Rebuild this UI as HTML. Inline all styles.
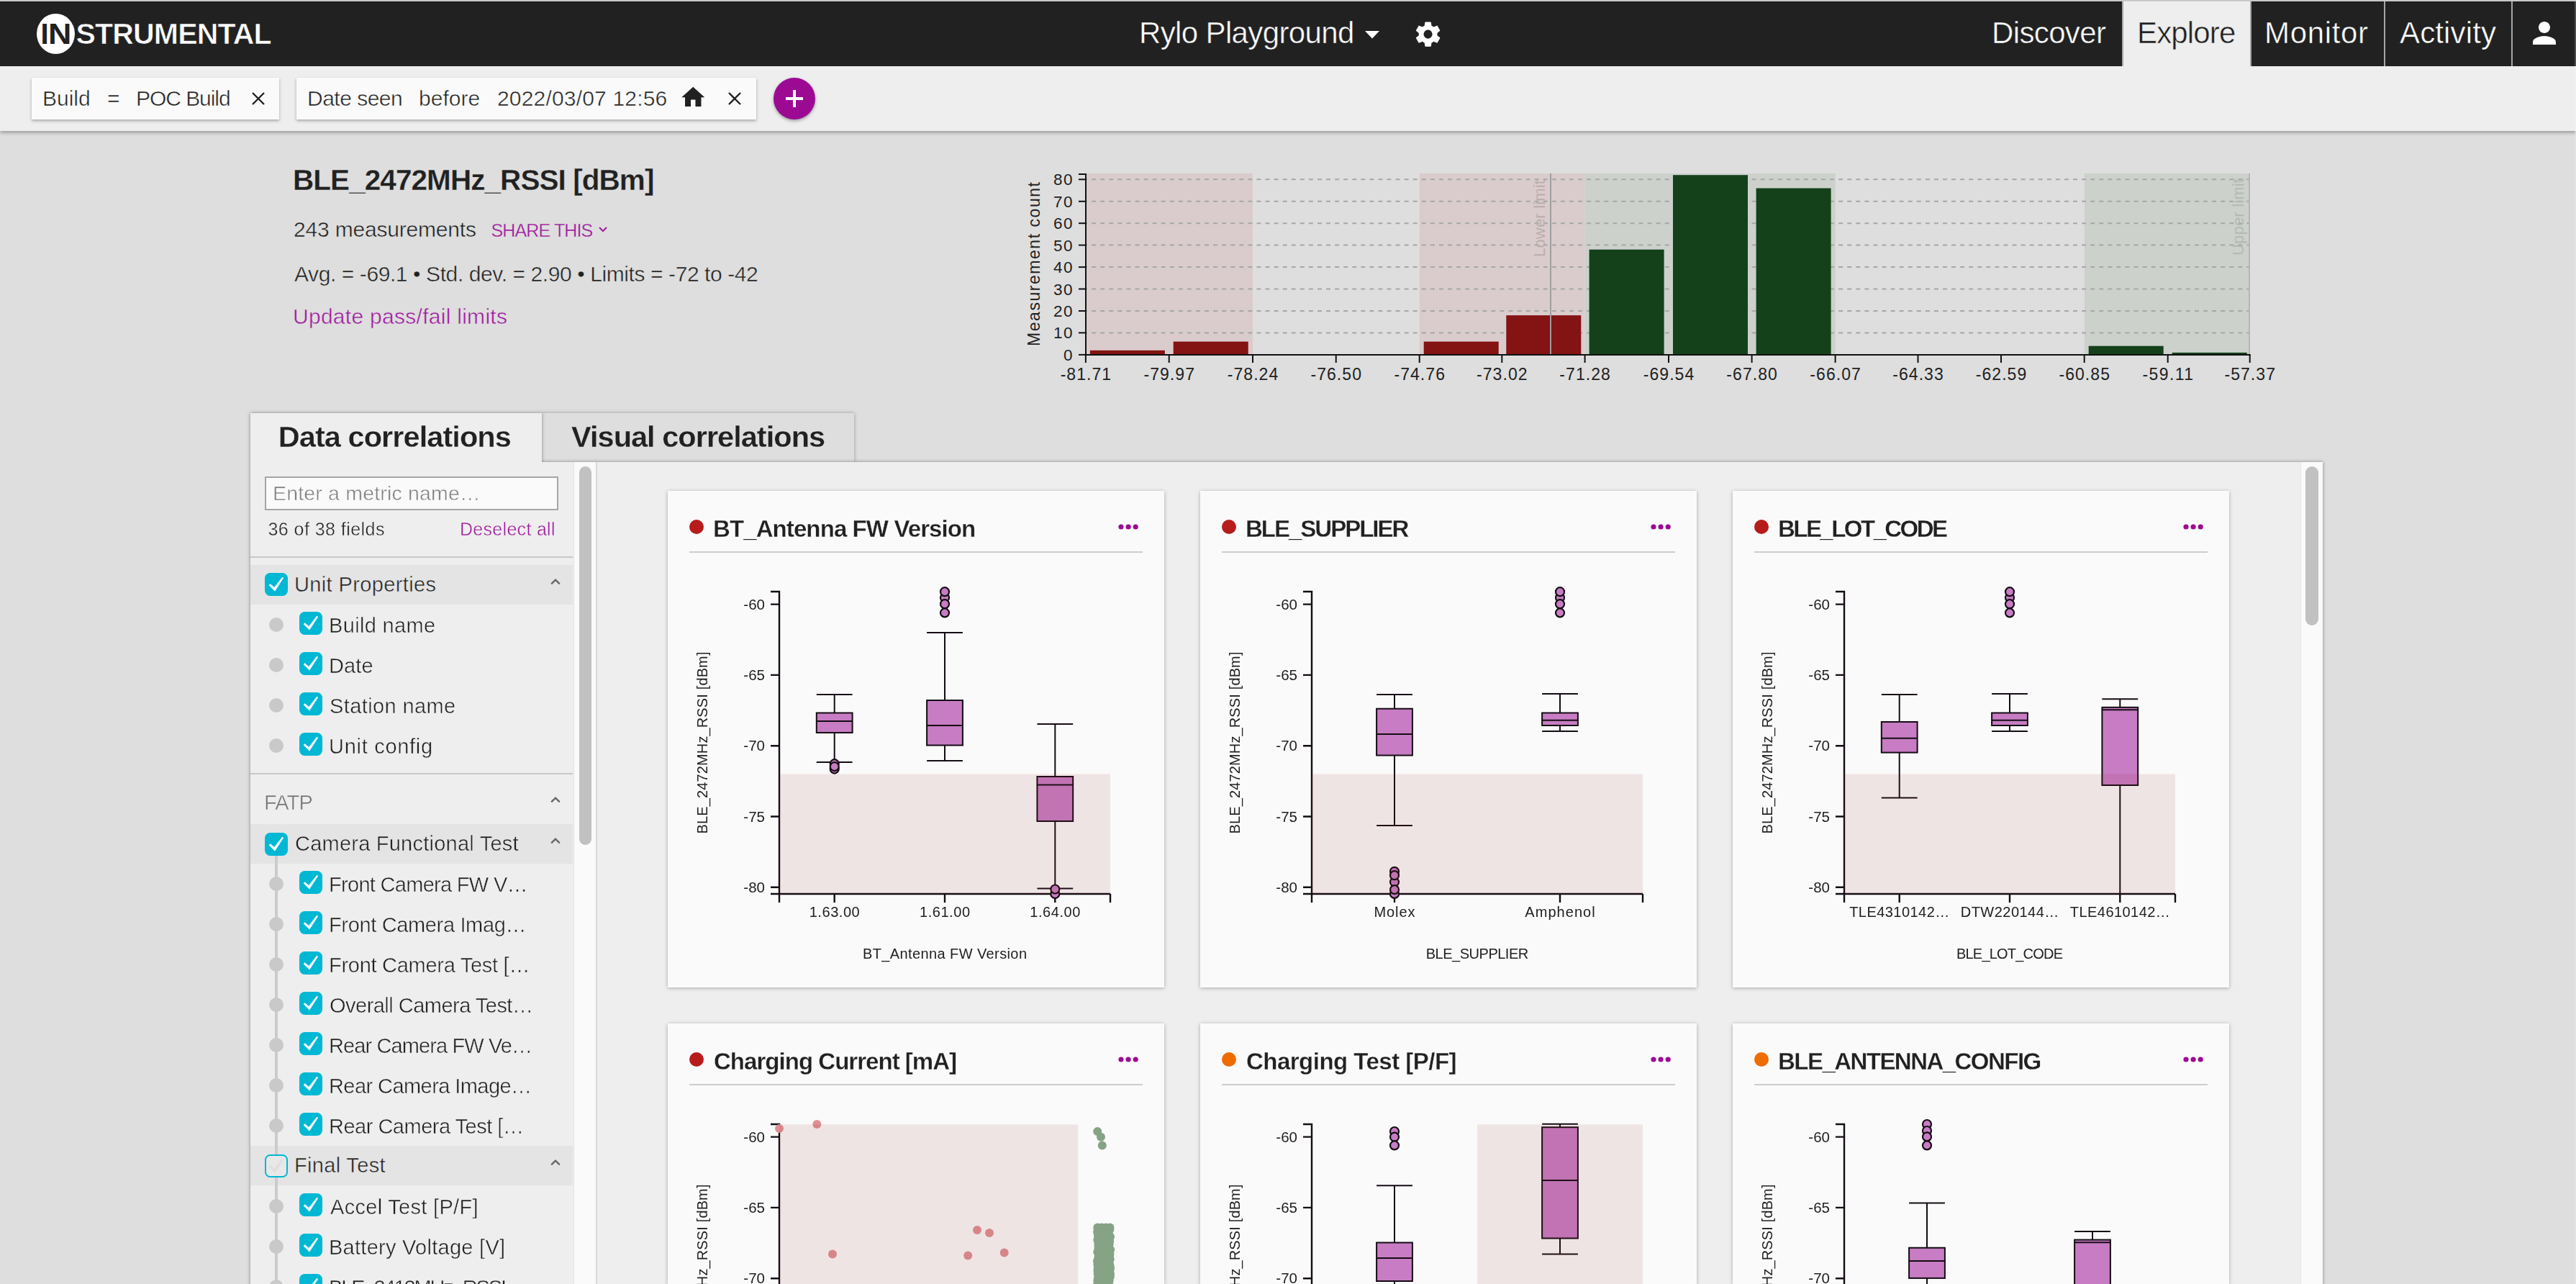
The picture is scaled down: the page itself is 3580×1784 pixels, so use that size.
<!DOCTYPE html><html lang="en"><head><meta charset="utf-8"><title>Instrumental - Explore</title><style>

html,body{margin:0;padding:0;overflow:hidden;background:#dedede;}
body{font-family:"Liberation Sans", Arial, sans-serif;}
#root{position:absolute;left:0;top:0;width:3580px;height:1784px;overflow:hidden;background:#dedede;}
#root div,#root svg,#root span.t{position:absolute;}
span.t{white-space:nowrap;display:block;}
svg text{font-family:"Liberation Sans", Arial, sans-serif;}
@media (max-width:1900px){#root{zoom:0.5;}}

</style></head><body><div id="root">
<div style="left:0px;top:92px;width:3580px;height:90px;background:#eeeeee;box-shadow:0 2px 5px rgba(0,0,0,0.35);"></div>
<div style="left:44px;top:108px;width:344px;height:58px;background:#fafafa;box-shadow:0 2px 4px rgba(0,0,0,0.3);"></div>
<div style="left:412px;top:108px;width:639px;height:58px;background:#fafafa;box-shadow:0 2px 4px rgba(0,0,0,0.3);"></div>
<span id="t1" class="t" style="left:59.0px;top:121.6px;font-size:30px;line-height:30px;color:#212121;letter-spacing:-0.01px;-webkit-text-stroke:0.5px #fafafa;">Build</span>
<span id="t2" class="t" style="left:149.0px;top:121.6px;font-size:30px;line-height:30px;color:#212121;-webkit-text-stroke:0.5px #fafafa;">=</span>
<span id="t3" class="t" style="left:189.0px;top:121.6px;font-size:30px;line-height:30px;color:#212121;letter-spacing:-1.05px;-webkit-text-stroke:0.5px #fafafa;">POC Build</span>
<svg style="left:348.5px;top:127px" width="20" height="20" viewBox="0 0 20 20"><path d="M2 2L18 18M18 2L2 18" stroke="#212121" stroke-width="2.4" fill="none"/></svg>
<span id="t4" class="t" style="left:427.0px;top:121.6px;font-size:30px;line-height:30px;color:#212121;letter-spacing:-0.51px;-webkit-text-stroke:0.5px #fafafa;">Date seen</span>
<span id="t5" class="t" style="left:582.0px;top:121.6px;font-size:30px;line-height:30px;color:#212121;letter-spacing:0.02px;-webkit-text-stroke:0.5px #fafafa;">before</span>
<span id="t6" class="t" style="left:691.0px;top:121.6px;font-size:30px;line-height:30px;color:#212121;letter-spacing:0.18px;-webkit-text-stroke:0.5px #fafafa;">2022/03/07 12:56</span>
<svg style="left:943.5px;top:116.2px" width="38.5" height="38.5" viewBox="0 0 24 24"><path fill="#212121" d="M10 20v-6h4v6h5v-8h3L12 3 2 12h3v8z"/></svg>
<svg style="left:1011px;top:127px" width="20" height="20" viewBox="0 0 20 20"><path d="M2 2L18 18M18 2L2 18" stroke="#212121" stroke-width="2.4" fill="none"/></svg>
<div style="left:1075px;top:108px;width:58px;height:58px;border-radius:50%;background:#9c0a94;box-shadow:0 2px 4px rgba(0,0,0,0.35);"></div>
<svg style="left:1090px;top:123px" width="28" height="28" viewBox="0 0 28 28"><path d="M14 2V26M2 14H26" stroke="#fff" stroke-width="4" fill="none"/></svg>
<div style="left:0px;top:0px;width:3580px;height:1px;background:#c5c5c5;"></div>
<div style="left:0px;top:1px;width:3580px;height:1px;background:#cecece;"></div>
<div style="left:0px;top:2px;width:3580px;height:90px;background:#212121;"></div>
<div style="left:0px;top:2px;width:3580px;height:1px;background:#181818;"></div>
<div style="left:2951px;top:2px;width:176px;height:90px;background:#eeeeee;"></div>
<div style="left:2949px;top:2px;width:2px;height:90px;background:#a6a6a6;"></div>
<div style="left:3127px;top:2px;width:2px;height:90px;background:#a6a6a6;"></div>
<div style="left:3313px;top:2px;width:2px;height:90px;background:#a6a6a6;"></div>
<div style="left:3490px;top:2px;width:2px;height:90px;background:#a6a6a6;"></div>
<div style="left:50.5px;top:18.7px;width:53.5px;height:56.3px;border-radius:50%;background:#fff;"></div>
<span class="t" style="left:0;top:0;"><span id="t7" class="t" style="left:56.5px;top:27.4px;font-size:40px;line-height:40px;color:#212121;font-weight:700;">I</span><span id="t8" class="t" style="left:66.5px;top:27.4px;font-size:40px;line-height:40px;color:#212121;font-weight:700;transform:scaleX(1.12);transform-origin:0 0;">N</span><span id="t9" class="t" style="left:105.5px;top:27.1px;font-size:41px;line-height:41px;color:#ffffff;font-weight:700;letter-spacing:-0.81px;-webkit-text-stroke:0.6px #212121;">STRUMENTAL</span></span>
<span id="t10" class="t" style="left:1583.0px;top:25.2px;font-size:42px;line-height:42px;color:#ffffff;letter-spacing:-0.63px;-webkit-text-stroke:0.5px #212121;">Rylo Playground</span>
<svg style="left:1895px;top:40px" width="24" height="16" viewBox="0 0 24 16"><path d="M2 3h20L12 13.5z" fill="#fff"/></svg>
<svg style="left:1964.4px;top:26.5px" width="41.2" height="41.2" viewBox="0 0 24 24"><path fill="#fff" d="M19.43 12.98c.04-.32.07-.64.07-.98s-.03-.66-.07-.98l2.11-1.65c.19-.15.24-.42.12-.64l-2-3.46c-.12-.22-.39-.3-.61-.22l-2.49 1c-.52-.4-1.08-.73-1.69-.98l-.38-2.65C14.46 2.18 14.25 2 14 2h-4c-.25 0-.46.18-.49.42l-.38 2.65c-.61.25-1.17.59-1.69.98l-2.49-1c-.23-.09-.49 0-.61.22l-2 3.46c-.13.22-.07.49.12.64l2.11 1.65c-.04.32-.07.65-.07.98s.03.66.07.98l-2.11 1.65c-.19.15-.24.42-.12.64l2 3.46c.12.22.39.3.61.22l2.49-1c.52.4 1.08.73 1.69.98l.38 2.65c.03.24.24.42.49.42h4c.25 0 .46-.18.49-.42l.38-2.65c.61-.25 1.17-.59 1.69-.98l2.49 1c.23.09.49 0 .61-.22l2-3.46c.12-.22.07-.49-.12-.64l-2.11-1.65zM12 15.5c-1.93 0-3.5-1.57-3.5-3.5s1.57-3.5 3.5-3.5 3.5 1.57 3.5 3.5-1.57 3.5-3.5 3.5z"/></svg>
<span id="t11" class="t" style="left:2768.0px;top:25.0px;font-size:42px;line-height:42px;color:#ffffff;letter-spacing:-0.63px;-webkit-text-stroke:0.5px #212121;">Discover</span>
<span id="t12" class="t" style="left:2970.0px;top:25.0px;font-size:42px;line-height:42px;color:#212121;letter-spacing:-0.84px;-webkit-text-stroke:0.5px #eeeeee;">Explore</span>
<span id="t13" class="t" style="left:3147.0px;top:25.0px;font-size:42px;line-height:42px;color:#ffffff;letter-spacing:0.66px;-webkit-text-stroke:0.5px #212121;">Monitor</span>
<span id="t14" class="t" style="left:3335.0px;top:25.0px;font-size:42px;line-height:42px;color:#ffffff;letter-spacing:0.14px;-webkit-text-stroke:0.5px #212121;">Activity</span>
<svg style="left:3512px;top:22px" width="48" height="48" viewBox="0 0 24 24"><path fill="#fff" d="M12 12c2.21 0 4-1.79 4-4s-1.79-4-4-4-4 1.79-4 4 1.79 4 4 4zm0 2c-2.67 0-8 1.34-8 4v2h16v-2c0-2.66-5.33-4-8-4z"/></svg>
<span id="t15" class="t" style="left:407.0px;top:229.5px;font-size:40.5px;line-height:40.5px;color:#212121;font-weight:700;letter-spacing:-0.94px;-webkit-text-stroke:0.3px #dedede;">BLE_2472MHz_RSSI [dBm]</span>
<span id="t16" class="t" style="left:408.0px;top:303.9px;font-size:30px;line-height:30px;color:#212121;letter-spacing:-0.19px;-webkit-text-stroke:0.5px #dedede;">243 measurements</span>
<span id="t17" class="t" style="left:682.5px;top:308.1px;font-size:25px;line-height:25px;color:#a01aa0;letter-spacing:-0.87px;-webkit-text-stroke:0.3px #dedede;">SHARE THIS</span>
<svg style="left:831px;top:313px" width="14" height="12" viewBox="0 0 14 12"><path d="M2 3L7 8L12 3" stroke="#a01aa0" stroke-width="2" fill="none"/></svg>
<span id="t18" class="t" style="left:409.0px;top:366.4px;font-size:30px;line-height:30px;color:#212121;letter-spacing:-0.41px;-webkit-text-stroke:0.5px #dedede;">Avg. = -69.1 • Std. dev. = 2.90 • Limits = -72 to -42</span>
<span id="t19" class="t" style="left:407.0px;top:425.4px;font-size:30px;line-height:30px;color:#a01aa0;letter-spacing:0.28px;-webkit-text-stroke:0.5px #dedede;">Update pass/fail limits</span>
<svg style="left:1400px;top:220px" width="1800" height="340" viewBox="0 0 1800 340"><rect x="108.9" y="21.0" width="232.1" height="251.9" fill="#dacccc"/><rect x="572.7" y="21.0" width="229.9" height="251.9" fill="#dacccc"/><rect x="802.6" y="21.0" width="348.0" height="251.9" fill="#ccd1cc"/><rect x="1496.7" y="21.0" width="230.0" height="251.9" fill="#ccd1cc"/><line x1="109.0" y1="242.4" x2="1726.7" y2="242.4" stroke="#a6a6a6" stroke-width="2" stroke-dasharray="5.9 6.17" stroke-dashoffset="3.9"/><line x1="109.0" y1="212.0" x2="1726.7" y2="212.0" stroke="#a6a6a6" stroke-width="2" stroke-dasharray="5.9 6.17" stroke-dashoffset="3.9"/><line x1="109.0" y1="181.5" x2="1726.7" y2="181.5" stroke="#a6a6a6" stroke-width="2" stroke-dasharray="5.9 6.17" stroke-dashoffset="3.9"/><line x1="109.0" y1="151.1" x2="1726.7" y2="151.1" stroke="#a6a6a6" stroke-width="2" stroke-dasharray="5.9 6.17" stroke-dashoffset="3.9"/><line x1="109.0" y1="120.6" x2="1726.7" y2="120.6" stroke="#a6a6a6" stroke-width="2" stroke-dasharray="5.9 6.17" stroke-dashoffset="3.9"/><line x1="109.0" y1="90.2" x2="1726.7" y2="90.2" stroke="#a6a6a6" stroke-width="2" stroke-dasharray="5.9 6.17" stroke-dashoffset="3.9"/><line x1="109.0" y1="59.8" x2="1726.7" y2="59.8" stroke="#a6a6a6" stroke-width="2" stroke-dasharray="5.9 6.17" stroke-dashoffset="3.9"/><line x1="109.0" y1="29.3" x2="1726.7" y2="29.3" stroke="#a6a6a6" stroke-width="2" stroke-dasharray="5.9 6.17" stroke-dashoffset="3.9"/><rect x="114.9" y="266.8" width="104.0" height="6.1" fill="#841313"/><rect x="230.7" y="254.6" width="104.0" height="18.3" fill="#841313"/><rect x="578.7" y="254.6" width="104.0" height="18.3" fill="#841313"/><rect x="693.3" y="218.1" width="104.0" height="54.8" fill="#841313"/><rect x="808.6" y="126.7" width="104.0" height="146.2" fill="#14411a"/><rect x="925.0" y="23.2" width="104.0" height="249.7" fill="#14411a"/><rect x="1040.6" y="41.5" width="104.0" height="231.4" fill="#14411a"/><rect x="1502.7" y="260.7" width="104.0" height="12.2" fill="#14411a"/><rect x="1618.7" y="269.9" width="104.0" height="3.0" fill="#14411a"/><line x1="755.0" y1="21.0" x2="755.0" y2="272.9" stroke="#9e9e9e" stroke-width="2"/><line x1="1726.0" y1="21.0" x2="1726.0" y2="272.9" stroke="#b5b9b4" stroke-width="2"/><text transform="translate(747.0 137.0) rotate(-90)" font-size="22" fill="#b9aeae" textLength="107" lengthAdjust="spacing">Lower limit</text><text transform="translate(1718.0 135.0) rotate(-90)" font-size="22" fill="#b4b9b3" textLength="107" lengthAdjust="spacing">Upper limit</text><path d="M99.0 22.0H109.0V272.9H1727.7" stroke="#111" stroke-width="2" fill="none"/><line x1="99.0" y1="272.9" x2="109.0" y2="272.9" stroke="#111" stroke-width="2"/><text x="90.5" y="280.9" font-size="22.5" text-anchor="end" fill="#212121">0</text><line x1="99.0" y1="242.4" x2="109.0" y2="242.4" stroke="#111" stroke-width="2"/><text x="90.5" y="250.4" font-size="22.5" text-anchor="end" fill="#212121" textLength="26.5" lengthAdjust="spacing">10</text><line x1="99.0" y1="212.0" x2="109.0" y2="212.0" stroke="#111" stroke-width="2"/><text x="90.5" y="220.0" font-size="22.5" text-anchor="end" fill="#212121" textLength="26.5" lengthAdjust="spacing">20</text><line x1="99.0" y1="181.5" x2="109.0" y2="181.5" stroke="#111" stroke-width="2"/><text x="90.5" y="189.5" font-size="22.5" text-anchor="end" fill="#212121" textLength="26.5" lengthAdjust="spacing">30</text><line x1="99.0" y1="151.1" x2="109.0" y2="151.1" stroke="#111" stroke-width="2"/><text x="90.5" y="159.1" font-size="22.5" text-anchor="end" fill="#212121" textLength="26.5" lengthAdjust="spacing">40</text><line x1="99.0" y1="120.6" x2="109.0" y2="120.6" stroke="#111" stroke-width="2"/><text x="90.5" y="128.6" font-size="22.5" text-anchor="end" fill="#212121" textLength="26.5" lengthAdjust="spacing">50</text><line x1="99.0" y1="90.2" x2="109.0" y2="90.2" stroke="#111" stroke-width="2"/><text x="90.5" y="98.2" font-size="22.5" text-anchor="end" fill="#212121" textLength="26.5" lengthAdjust="spacing">60</text><line x1="99.0" y1="59.8" x2="109.0" y2="59.8" stroke="#111" stroke-width="2"/><text x="90.5" y="67.8" font-size="22.5" text-anchor="end" fill="#212121" textLength="26.5" lengthAdjust="spacing">70</text><line x1="99.0" y1="29.3" x2="109.0" y2="29.3" stroke="#111" stroke-width="2"/><text x="90.5" y="37.3" font-size="22.5" text-anchor="end" fill="#212121" textLength="26.5" lengthAdjust="spacing">80</text><line x1="108.9" y1="272.9" x2="108.9" y2="284.0" stroke="#111" stroke-width="2"/><text x="108.9" y="308.0" font-size="23" text-anchor="middle" fill="#212121" textLength="70.5" lengthAdjust="spacing">-81.71</text><line x1="224.7" y1="272.9" x2="224.7" y2="284.0" stroke="#111" stroke-width="2"/><text x="224.7" y="308.0" font-size="23" text-anchor="middle" fill="#212121" textLength="70.5" lengthAdjust="spacing">-79.97</text><line x1="341.0" y1="272.9" x2="341.0" y2="284.0" stroke="#111" stroke-width="2"/><text x="341.0" y="308.0" font-size="23" text-anchor="middle" fill="#212121" textLength="70.5" lengthAdjust="spacing">-78.24</text><line x1="456.7" y1="272.9" x2="456.7" y2="284.0" stroke="#111" stroke-width="2"/><text x="456.7" y="308.0" font-size="23" text-anchor="middle" fill="#212121" textLength="70.5" lengthAdjust="spacing">-76.50</text><line x1="572.7" y1="272.9" x2="572.7" y2="284.0" stroke="#111" stroke-width="2"/><text x="572.7" y="308.0" font-size="23" text-anchor="middle" fill="#212121" textLength="70.5" lengthAdjust="spacing">-74.76</text><line x1="687.3" y1="272.9" x2="687.3" y2="284.0" stroke="#111" stroke-width="2"/><text x="687.3" y="308.0" font-size="23" text-anchor="middle" fill="#212121" textLength="70.5" lengthAdjust="spacing">-73.02</text><line x1="802.6" y1="272.9" x2="802.6" y2="284.0" stroke="#111" stroke-width="2"/><text x="802.6" y="308.0" font-size="23" text-anchor="middle" fill="#212121" textLength="70.5" lengthAdjust="spacing">-71.28</text><line x1="919.0" y1="272.9" x2="919.0" y2="284.0" stroke="#111" stroke-width="2"/><text x="919.0" y="308.0" font-size="23" text-anchor="middle" fill="#212121" textLength="70.5" lengthAdjust="spacing">-69.54</text><line x1="1034.6" y1="272.9" x2="1034.6" y2="284.0" stroke="#111" stroke-width="2"/><text x="1034.6" y="308.0" font-size="23" text-anchor="middle" fill="#212121" textLength="70.5" lengthAdjust="spacing">-67.80</text><line x1="1150.6" y1="272.9" x2="1150.6" y2="284.0" stroke="#111" stroke-width="2"/><text x="1150.6" y="308.0" font-size="23" text-anchor="middle" fill="#212121" textLength="70.5" lengthAdjust="spacing">-66.07</text><line x1="1265.5" y1="272.9" x2="1265.5" y2="284.0" stroke="#111" stroke-width="2"/><text x="1265.5" y="308.0" font-size="23" text-anchor="middle" fill="#212121" textLength="70.5" lengthAdjust="spacing">-64.33</text><line x1="1381.0" y1="272.9" x2="1381.0" y2="284.0" stroke="#111" stroke-width="2"/><text x="1381.0" y="308.0" font-size="23" text-anchor="middle" fill="#212121" textLength="70.5" lengthAdjust="spacing">-62.59</text><line x1="1496.7" y1="272.9" x2="1496.7" y2="284.0" stroke="#111" stroke-width="2"/><text x="1496.7" y="308.0" font-size="23" text-anchor="middle" fill="#212121" textLength="70.5" lengthAdjust="spacing">-60.85</text><line x1="1612.7" y1="272.9" x2="1612.7" y2="284.0" stroke="#111" stroke-width="2"/><text x="1612.7" y="308.0" font-size="23" text-anchor="middle" fill="#212121" textLength="70.5" lengthAdjust="spacing">-59.11</text><line x1="1726.7" y1="272.9" x2="1726.7" y2="284.0" stroke="#111" stroke-width="2"/><text x="1726.7" y="308.0" font-size="23" text-anchor="middle" fill="#212121" textLength="70.5" lengthAdjust="spacing">-57.37</text><text transform="translate(44.5 147.0) rotate(-90)" font-size="23" text-anchor="middle" fill="#212121" textLength="228" lengthAdjust="spacing">Measurement count</text></svg>
<div style="left:753px;top:574px;width:434px;height:68px;background:#dedede;box-shadow:0 0 5px rgba(0,0,0,0.3);"></div>
<div style="left:0;top:0;width:0;height:0;filter:drop-shadow(0 0 2.5px rgba(0,0,0,0.4));"><div style="left:348px;top:642px;width:2880px;height:1162px;background:#eeeeee;"></div><div style="left:348px;top:574px;width:405px;height:70px;background:#eeeeee;"></div></div>
<span id="t20" class="t" style="left:386.7px;top:585.6px;font-size:41.5px;line-height:41.5px;color:#212121;font-weight:700;letter-spacing:-0.93px;-webkit-text-stroke:0.3px #eeeeee;">Data correlations</span>
<span id="t21" class="t" style="left:794.0px;top:585.6px;font-size:41.5px;line-height:41.5px;color:#212121;font-weight:700;letter-spacing:-0.97px;-webkit-text-stroke:0.3px #dedede;">Visual correlations</span>
<div style="left:797px;top:642px;width:33px;height:1142px;background:#fafafa;border-left:1px solid #e2e2e2;border-right:2px solid #d9d9d9;box-sizing:border-box;"></div>
<div style="left:804.5px;top:648px;width:17.5px;height:525.5px;background:#c1c1c1;border-radius:9px;"></div>
<div style="left:3197px;top:642px;width:31px;height:1142px;background:#fafafa;border-left:1px solid #e6e6e6;box-sizing:border-box;"></div>
<div style="left:3204px;top:648px;width:18px;height:221px;background:#c1c1c1;border-radius:9px;"></div>
<div style="left:368px;top:662px;width:408px;height:47px;background:#fafafa;border:2px solid #a6a6a6;box-sizing:border-box;"></div>
<span id="t22" class="t" style="left:379.0px;top:671.3px;font-size:28.5px;line-height:28.5px;color:#808080;letter-spacing:0.18px;-webkit-text-stroke:0.5px #fafafa;">Enter a metric name…</span>
<span id="t23" class="t" style="left:372.5px;top:722.6px;font-size:25px;line-height:25px;color:#212121;letter-spacing:0.45px;-webkit-text-stroke:0.4px #eeeeee;">36 of 38 fields</span>
<span id="t24" class="t" style="left:639.0px;top:722.6px;font-size:25px;line-height:25px;color:#a01aa0;letter-spacing:0.30px;-webkit-text-stroke:0.4px #eeeeee;">Deselect all</span>
<div style="left:348px;top:773.3px;width:448px;height:2px;background:#c8c8c8;"></div>
<div style="left:348px;top:785px;width:448px;height:55px;background:#e4e4e4;"></div>
<svg style="left:368px;top:796px" width="32" height="32" viewBox="0 0 32 32"><rect width="32" height="32" rx="7.5" fill="#00b8d4"/><path d="M7.7 15.3L13.2 19.9L24.3 5.8L26.1 7L14.1 25.5L5.7 17.3Z" fill="#fff"/></svg>
<span id="t25" class="t" style="left:409.0px;top:797.9px;font-size:29px;line-height:29px;color:#212121;letter-spacing:0.37px;-webkit-text-stroke:0.5px #e4e4e4;">Unit Properties</span>
<svg style="left:762px;top:800.7px" width="20" height="14" viewBox="0 0 20 14"><path d="M4.2 10.4L10 4.6L15.8 10.4" stroke="#666" stroke-width="2.3" fill="none"/></svg>
<div style="left:374px;top:858px;width:20px;height:20px;border-radius:50%;background:#c9c9c9;"></div>
<svg style="left:416px;top:850px" width="32" height="32" viewBox="0 0 32 32"><rect width="32" height="32" rx="7.5" fill="#00b8d4"/><path d="M7.7 15.3L13.2 19.9L24.3 5.8L26.1 7L14.1 25.5L5.7 17.3Z" fill="#fff"/></svg>
<span id="t26" class="t" style="left:457.0px;top:854.6px;font-size:29px;line-height:29px;color:#212121;letter-spacing:0.34px;-webkit-text-stroke:0.5px #eeeeee;">Build name</span>
<div style="left:374px;top:914px;width:20px;height:20px;border-radius:50%;background:#c9c9c9;"></div>
<svg style="left:416px;top:906px" width="32" height="32" viewBox="0 0 32 32"><rect width="32" height="32" rx="7.5" fill="#00b8d4"/><path d="M7.7 15.3L13.2 19.9L24.3 5.8L26.1 7L14.1 25.5L5.7 17.3Z" fill="#fff"/></svg>
<span id="t27" class="t" style="left:457.0px;top:910.6px;font-size:29px;line-height:29px;color:#212121;letter-spacing:0.12px;-webkit-text-stroke:0.5px #eeeeee;">Date</span>
<div style="left:374px;top:970px;width:20px;height:20px;border-radius:50%;background:#c9c9c9;"></div>
<svg style="left:416px;top:962px" width="32" height="32" viewBox="0 0 32 32"><rect width="32" height="32" rx="7.5" fill="#00b8d4"/><path d="M7.7 15.3L13.2 19.9L24.3 5.8L26.1 7L14.1 25.5L5.7 17.3Z" fill="#fff"/></svg>
<span id="t28" class="t" style="left:458.0px;top:966.6px;font-size:29px;line-height:29px;color:#212121;letter-spacing:0.39px;-webkit-text-stroke:0.5px #eeeeee;">Station name</span>
<div style="left:374px;top:1026px;width:20px;height:20px;border-radius:50%;background:#c9c9c9;"></div>
<svg style="left:416px;top:1018px" width="32" height="32" viewBox="0 0 32 32"><rect width="32" height="32" rx="7.5" fill="#00b8d4"/><path d="M7.7 15.3L13.2 19.9L24.3 5.8L26.1 7L14.1 25.5L5.7 17.3Z" fill="#fff"/></svg>
<span id="t29" class="t" style="left:457.0px;top:1022.6px;font-size:29px;line-height:29px;color:#212121;letter-spacing:0.71px;-webkit-text-stroke:0.5px #eeeeee;">Unit config</span>
<div style="left:348px;top:1074.3px;width:448px;height:2px;background:#c8c8c8;"></div>
<span id="t30" class="t" style="left:367.0px;top:1101.2px;font-size:29px;line-height:29px;color:#757575;letter-spacing:-0.84px;-webkit-text-stroke:0.5px #eeeeee;">FATP</span>
<svg style="left:762px;top:1103.7px" width="20" height="14" viewBox="0 0 20 14"><path d="M4.2 10.4L10 4.6L15.8 10.4" stroke="#666" stroke-width="2.3" fill="none"/></svg>
<div style="left:348px;top:1145px;width:448px;height:55px;background:#e4e4e4;"></div>
<div style="left:348px;top:1592px;width:448px;height:55px;background:#e4e4e4;"></div>
<div style="left:382px;top:1180px;width:4px;height:604px;background:#cbcbcb;"></div>
<svg style="left:368px;top:1157px" width="32" height="32" viewBox="0 0 32 32"><rect width="32" height="32" rx="7.5" fill="#00b8d4"/><path d="M7.7 15.3L13.2 19.9L24.3 5.8L26.1 7L14.1 25.5L5.7 17.3Z" fill="#fff"/></svg>
<span id="t31" class="t" style="left:410.0px;top:1157.9px;font-size:29px;line-height:29px;color:#212121;letter-spacing:0.23px;-webkit-text-stroke:0.5px #e4e4e4;">Camera Functional Test</span>
<svg style="left:762px;top:1160.7px" width="20" height="14" viewBox="0 0 20 14"><path d="M4.2 10.4L10 4.6L15.8 10.4" stroke="#666" stroke-width="2.3" fill="none"/></svg>
<div style="left:374px;top:1218px;width:20px;height:20px;border-radius:50%;background:#c9c9c9;"></div>
<svg style="left:416px;top:1210px" width="32" height="32" viewBox="0 0 32 32"><rect width="32" height="32" rx="7.5" fill="#00b8d4"/><path d="M7.7 15.3L13.2 19.9L24.3 5.8L26.1 7L14.1 25.5L5.7 17.3Z" fill="#fff"/></svg>
<span id="t32" class="t" style="left:457.0px;top:1214.6px;font-size:29px;line-height:29px;color:#212121;letter-spacing:-0.70px;-webkit-text-stroke:0.5px #eeeeee;">Front Camera FW V…</span>
<div style="left:374px;top:1274px;width:20px;height:20px;border-radius:50%;background:#c9c9c9;"></div>
<svg style="left:416px;top:1266px" width="32" height="32" viewBox="0 0 32 32"><rect width="32" height="32" rx="7.5" fill="#00b8d4"/><path d="M7.7 15.3L13.2 19.9L24.3 5.8L26.1 7L14.1 25.5L5.7 17.3Z" fill="#fff"/></svg>
<span id="t33" class="t" style="left:457.0px;top:1270.6px;font-size:29px;line-height:29px;color:#212121;letter-spacing:-0.35px;-webkit-text-stroke:0.5px #eeeeee;">Front Camera Imag…</span>
<div style="left:374px;top:1330px;width:20px;height:20px;border-radius:50%;background:#c9c9c9;"></div>
<svg style="left:416px;top:1322px" width="32" height="32" viewBox="0 0 32 32"><rect width="32" height="32" rx="7.5" fill="#00b8d4"/><path d="M7.7 15.3L13.2 19.9L24.3 5.8L26.1 7L14.1 25.5L5.7 17.3Z" fill="#fff"/></svg>
<span id="t34" class="t" style="left:457.0px;top:1326.6px;font-size:29px;line-height:29px;color:#212121;letter-spacing:-0.28px;-webkit-text-stroke:0.5px #eeeeee;">Front Camera Test […</span>
<div style="left:374px;top:1386px;width:20px;height:20px;border-radius:50%;background:#c9c9c9;"></div>
<svg style="left:416px;top:1378px" width="32" height="32" viewBox="0 0 32 32"><rect width="32" height="32" rx="7.5" fill="#00b8d4"/><path d="M7.7 15.3L13.2 19.9L24.3 5.8L26.1 7L14.1 25.5L5.7 17.3Z" fill="#fff"/></svg>
<span id="t35" class="t" style="left:458.0px;top:1382.6px;font-size:29px;line-height:29px;color:#212121;letter-spacing:-0.52px;-webkit-text-stroke:0.5px #eeeeee;">Overall Camera Test…</span>
<div style="left:374px;top:1442px;width:20px;height:20px;border-radius:50%;background:#c9c9c9;"></div>
<svg style="left:416px;top:1434px" width="32" height="32" viewBox="0 0 32 32"><rect width="32" height="32" rx="7.5" fill="#00b8d4"/><path d="M7.7 15.3L13.2 19.9L24.3 5.8L26.1 7L14.1 25.5L5.7 17.3Z" fill="#fff"/></svg>
<span id="t36" class="t" style="left:457.0px;top:1438.6px;font-size:29px;line-height:29px;color:#212121;letter-spacing:-0.89px;-webkit-text-stroke:0.5px #eeeeee;">Rear Camera FW Ve…</span>
<div style="left:374px;top:1498px;width:20px;height:20px;border-radius:50%;background:#c9c9c9;"></div>
<svg style="left:416px;top:1490px" width="32" height="32" viewBox="0 0 32 32"><rect width="32" height="32" rx="7.5" fill="#00b8d4"/><path d="M7.7 15.3L13.2 19.9L24.3 5.8L26.1 7L14.1 25.5L5.7 17.3Z" fill="#fff"/></svg>
<span id="t37" class="t" style="left:457.0px;top:1494.6px;font-size:29px;line-height:29px;color:#212121;letter-spacing:-0.57px;-webkit-text-stroke:0.5px #eeeeee;">Rear Camera Image…</span>
<div style="left:374px;top:1554px;width:20px;height:20px;border-radius:50%;background:#c9c9c9;"></div>
<svg style="left:416px;top:1546px" width="32" height="32" viewBox="0 0 32 32"><rect width="32" height="32" rx="7.5" fill="#00b8d4"/><path d="M7.7 15.3L13.2 19.9L24.3 5.8L26.1 7L14.1 25.5L5.7 17.3Z" fill="#fff"/></svg>
<span id="t38" class="t" style="left:457.0px;top:1550.6px;font-size:29px;line-height:29px;color:#212121;letter-spacing:-0.50px;-webkit-text-stroke:0.5px #eeeeee;">Rear Camera Test […</span>
<svg style="left:368px;top:1604px" width="32" height="32" viewBox="0 0 32 32"><rect x="1" y="1" width="30" height="30" rx="6.5" fill="#e8e8e8" stroke="#00b8d4" stroke-width="2"/><path d="M7.7 15.3L13.2 19.9L24.3 5.8L26.1 7L14.1 25.5L5.7 17.3Z" fill="#dedede"/></svg>
<span id="t39" class="t" style="left:409.0px;top:1604.9px;font-size:29px;line-height:29px;color:#212121;letter-spacing:0.33px;-webkit-text-stroke:0.5px #e4e4e4;">Final Test</span>
<svg style="left:762px;top:1607.7px" width="20" height="14" viewBox="0 0 20 14"><path d="M4.2 10.4L10 4.6L15.8 10.4" stroke="#666" stroke-width="2.3" fill="none"/></svg>
<div style="left:374px;top:1666px;width:20px;height:20px;border-radius:50%;background:#c9c9c9;"></div>
<svg style="left:416px;top:1658px" width="32" height="32" viewBox="0 0 32 32"><rect width="32" height="32" rx="7.5" fill="#00b8d4"/><path d="M7.7 15.3L13.2 19.9L24.3 5.8L26.1 7L14.1 25.5L5.7 17.3Z" fill="#fff"/></svg>
<span id="t40" class="t" style="left:459.0px;top:1662.6px;font-size:29px;line-height:29px;color:#212121;letter-spacing:0.31px;-webkit-text-stroke:0.5px #eeeeee;">Accel Test [P/F]</span>
<div style="left:374px;top:1722px;width:20px;height:20px;border-radius:50%;background:#c9c9c9;"></div>
<svg style="left:416px;top:1714px" width="32" height="32" viewBox="0 0 32 32"><rect width="32" height="32" rx="7.5" fill="#00b8d4"/><path d="M7.7 15.3L13.2 19.9L24.3 5.8L26.1 7L14.1 25.5L5.7 17.3Z" fill="#fff"/></svg>
<span id="t41" class="t" style="left:457.0px;top:1718.6px;font-size:29px;line-height:29px;color:#212121;letter-spacing:0.27px;-webkit-text-stroke:0.5px #eeeeee;">Battery Voltage [V]</span>
<div style="left:374px;top:1778px;width:20px;height:20px;border-radius:50%;background:#c9c9c9;"></div>
<svg style="left:416px;top:1770px" width="32" height="32" viewBox="0 0 32 32"><rect width="32" height="32" rx="7.5" fill="#00b8d4"/><path d="M7.7 15.3L13.2 19.9L24.3 5.8L26.1 7L14.1 25.5L5.7 17.3Z" fill="#fff"/></svg>
<span id="t42" class="t" style="left:457.0px;top:1774.6px;font-size:29px;line-height:29px;color:#212121;letter-spacing:-2.12px;-webkit-text-stroke:0.5px #eeeeee;">BLE_2412MHz_RSSI…</span>
<div style="left:928px;top:682px;width:690px;height:690px;background:#fafafa;box-shadow:0 1px 5px rgba(0,0,0,0.3);"></div>
<div style="left:958px;top:722px;width:20px;height:20px;border-radius:50%;background:#b71c1c;"></div>
<span id="t43" class="t" style="left:991.0px;top:718.1px;font-size:33px;line-height:33px;color:#212121;font-weight:700;letter-spacing:-0.90px;-webkit-text-stroke:0.3px #fafafa;">BT_Antenna FW Version</span>
<svg style="left:1553px;top:727px" width="34" height="10" viewBox="0 0 34 10"><circle cx="5" cy="5" r="3.6" fill="#9c0a94"/><circle cx="15.1" cy="5" r="3.6" fill="#9c0a94"/><circle cx="25.2" cy="5" r="3.6" fill="#9c0a94"/></svg>
<div style="left:958px;top:766px;width:630px;height:2px;background:#cccccc;"></div>
<svg style="left:928px;top:682px" width="690" height="690" viewBox="0 0 690 690"><path d="M143 140H155V560M143 560H615M143 157.6H155M143 255.9H155M143 354.2H155M143 452.5H155M143 550.8H155M155.0 560V572M615.0 560V572M231.7 560V572M385.0 560V572M538.3 560V572" stroke="#140c14" stroke-width="2.4" fill="none"/><path d="M206.8 283.0H256.6M231.7 283.0V308.5M231.7 336.0V377.0M206.8 377.0H256.6" stroke="#140c14" stroke-width="2" fill="none"/><rect x="206.8" y="308.5" width="49.8" height="27.5" fill="#c77cc3" stroke="#140c14" stroke-width="2"/><path d="M206.8 320.0H256.6" stroke="#140c14" stroke-width="2"/><circle cx="231.7" cy="379.2" r="6" fill="#c77cc3" stroke="#140c14" stroke-width="2.2"/><circle cx="231.7" cy="386.6" r="6" fill="#c77cc3" stroke="#140c14" stroke-width="2.2"/><circle cx="231.7" cy="383.1" r="6" fill="#c77cc3" stroke="#140c14" stroke-width="2.2"/><path d="M360.1 197.0H409.9M385.0 197.0V291.0M385.0 353.5V375.0M360.1 375.0H409.9" stroke="#140c14" stroke-width="2" fill="none"/><rect x="360.1" y="291.0" width="49.8" height="62.5" fill="#c77cc3" stroke="#140c14" stroke-width="2"/><path d="M360.1 326.0H409.9" stroke="#140c14" stroke-width="2"/><circle cx="385.0" cy="148.4" r="6" fill="#c77cc3" stroke="#140c14" stroke-width="2.2"/><circle cx="385.0" cy="140.2" r="6" fill="#c77cc3" stroke="#140c14" stroke-width="2.2"/><circle cx="385.0" cy="157.2" r="6" fill="#c77cc3" stroke="#140c14" stroke-width="2.2"/><circle cx="385.0" cy="169.4" r="6" fill="#c77cc3" stroke="#140c14" stroke-width="2.2"/><path d="M513.4 324.0H563.2M538.3 324.0V397.0M538.3 459.0V552.4M513.4 552.4H563.2" stroke="#140c14" stroke-width="2" fill="none"/><rect x="513.4" y="397.0" width="49.8" height="62.0" fill="#c77cc3" stroke="#140c14" stroke-width="2"/><path d="M513.4 408.5H563.2" stroke="#140c14" stroke-width="2"/><circle cx="538.3" cy="560.0" r="6" fill="#c77cc3" stroke="#140c14" stroke-width="2.2"/><circle cx="538.3" cy="553.5" r="6" fill="#c77cc3" stroke="#140c14" stroke-width="2.2"/><rect x="155" y="393.5" width="460" height="166.5" fill="rgba(150,40,40,0.1)"/><text x="135" y="164.8" font-size="20.5" text-anchor="end" fill="#212121">-60</text><text x="135" y="263.1" font-size="20.5" text-anchor="end" fill="#212121">-65</text><text x="135" y="361.4" font-size="20.5" text-anchor="end" fill="#212121">-70</text><text x="135" y="459.7" font-size="20.5" text-anchor="end" fill="#212121">-75</text><text x="135" y="558.0" font-size="20.5" text-anchor="end" fill="#212121">-80</text><text x="231.7" y="591.5" font-size="20" text-anchor="middle" fill="#212121" textLength="70" lengthAdjust="spacing">1.63.00</text><text x="385.0" y="591.5" font-size="20" text-anchor="middle" fill="#212121" textLength="70" lengthAdjust="spacing">1.61.00</text><text x="538.3" y="591.5" font-size="20" text-anchor="middle" fill="#212121" textLength="70" lengthAdjust="spacing">1.64.00</text><text x="385" y="649.5" font-size="20" text-anchor="middle" fill="#212121" textLength="228" lengthAdjust="spacing">BT_Antenna FW Version</text><text transform="translate(54.5 350) rotate(-90)" font-size="20" text-anchor="middle" fill="#212121" textLength="253" lengthAdjust="spacing">BLE_2472MHz_RSSI [dBm]</text></svg>
<div style="left:1668px;top:682px;width:690px;height:690px;background:#fafafa;box-shadow:0 1px 5px rgba(0,0,0,0.3);"></div>
<div style="left:1698px;top:722px;width:20px;height:20px;border-radius:50%;background:#b71c1c;"></div>
<span id="t44" class="t" style="left:1731.0px;top:718.1px;font-size:33px;line-height:33px;color:#212121;font-weight:700;letter-spacing:-2.00px;-webkit-text-stroke:0.3px #fafafa;">BLE_SUPPLIER</span>
<svg style="left:2293px;top:727px" width="34" height="10" viewBox="0 0 34 10"><circle cx="5" cy="5" r="3.6" fill="#9c0a94"/><circle cx="15.1" cy="5" r="3.6" fill="#9c0a94"/><circle cx="25.2" cy="5" r="3.6" fill="#9c0a94"/></svg>
<div style="left:1698px;top:766px;width:630px;height:2px;background:#cccccc;"></div>
<svg style="left:1668px;top:682px" width="690" height="690" viewBox="0 0 690 690"><path d="M143 140H155V560M143 560H615M143 157.6H155M143 255.9H155M143 354.2H155M143 452.5H155M143 550.8H155M155.0 560V572M615.0 560V572M270.0 560V572M500.0 560V572" stroke="#140c14" stroke-width="2.4" fill="none"/><path d="M245.1 283.0H294.9M270.0 283.0V302.7M270.0 367.5V465.0M245.1 465.0H294.9" stroke="#140c14" stroke-width="2" fill="none"/><rect x="245.1" y="302.7" width="49.8" height="64.8" fill="#c77cc3" stroke="#140c14" stroke-width="2"/><path d="M245.1 338.0H294.9" stroke="#140c14" stroke-width="2"/><circle cx="270.0" cy="559.9" r="6" fill="#c77cc3" stroke="#140c14" stroke-width="2.2"/><circle cx="270.0" cy="543.5" r="6" fill="#c77cc3" stroke="#140c14" stroke-width="2.2"/><circle cx="270.0" cy="528.8" r="6" fill="#c77cc3" stroke="#140c14" stroke-width="2.2"/><circle cx="270.0" cy="554.1" r="6" fill="#c77cc3" stroke="#140c14" stroke-width="2.2"/><circle cx="270.0" cy="534.2" r="6" fill="#c77cc3" stroke="#140c14" stroke-width="2.2"/><path d="M475.1 282.0H524.9M500.0 282.0V308.5M500.0 326.0V334.0M475.1 334.0H524.9" stroke="#140c14" stroke-width="2" fill="none"/><rect x="475.1" y="308.5" width="49.8" height="17.5" fill="#c77cc3" stroke="#140c14" stroke-width="2"/><path d="M475.1 318.7H524.9" stroke="#140c14" stroke-width="2"/><circle cx="500.0" cy="148.4" r="6" fill="#c77cc3" stroke="#140c14" stroke-width="2.2"/><circle cx="500.0" cy="140.2" r="6" fill="#c77cc3" stroke="#140c14" stroke-width="2.2"/><circle cx="500.0" cy="157.2" r="6" fill="#c77cc3" stroke="#140c14" stroke-width="2.2"/><circle cx="500.0" cy="169.4" r="6" fill="#c77cc3" stroke="#140c14" stroke-width="2.2"/><rect x="155" y="393.5" width="460" height="166.5" fill="rgba(150,40,40,0.1)"/><text x="135" y="164.8" font-size="20.5" text-anchor="end" fill="#212121">-60</text><text x="135" y="263.1" font-size="20.5" text-anchor="end" fill="#212121">-65</text><text x="135" y="361.4" font-size="20.5" text-anchor="end" fill="#212121">-70</text><text x="135" y="459.7" font-size="20.5" text-anchor="end" fill="#212121">-75</text><text x="135" y="558.0" font-size="20.5" text-anchor="end" fill="#212121">-80</text><text x="270.0" y="591.5" font-size="20" text-anchor="middle" fill="#212121" textLength="57" lengthAdjust="spacing">Molex</text><text x="500.0" y="591.5" font-size="20" text-anchor="middle" fill="#212121" textLength="97.5" lengthAdjust="spacing">Amphenol</text><text x="385" y="649.5" font-size="20" text-anchor="middle" fill="#212121" textLength="142.5" lengthAdjust="spacing">BLE_SUPPLIER</text><text transform="translate(54.5 350) rotate(-90)" font-size="20" text-anchor="middle" fill="#212121" textLength="253" lengthAdjust="spacing">BLE_2472MHz_RSSI [dBm]</text></svg>
<div style="left:2408px;top:682px;width:690px;height:690px;background:#fafafa;box-shadow:0 1px 5px rgba(0,0,0,0.3);"></div>
<div style="left:2438px;top:722px;width:20px;height:20px;border-radius:50%;background:#b71c1c;"></div>
<span id="t45" class="t" style="left:2471.0px;top:718.1px;font-size:33px;line-height:33px;color:#212121;font-weight:700;letter-spacing:-2.55px;-webkit-text-stroke:0.3px #fafafa;">BLE_LOT_CODE</span>
<svg style="left:3033px;top:727px" width="34" height="10" viewBox="0 0 34 10"><circle cx="5" cy="5" r="3.6" fill="#9c0a94"/><circle cx="15.1" cy="5" r="3.6" fill="#9c0a94"/><circle cx="25.2" cy="5" r="3.6" fill="#9c0a94"/></svg>
<div style="left:2438px;top:766px;width:630px;height:2px;background:#cccccc;"></div>
<svg style="left:2408px;top:682px" width="690" height="690" viewBox="0 0 690 690"><path d="M143 140H155V560M143 560H615M143 157.6H155M143 255.9H155M143 354.2H155M143 452.5H155M143 550.8H155M155.0 560V572M615.0 560V572M231.7 560V572M385.0 560V572M538.3 560V572" stroke="#140c14" stroke-width="2.4" fill="none"/><path d="M206.8 283.0H256.6M231.7 283.0V321.0M231.7 363.6V426.4M206.8 426.4H256.6" stroke="#140c14" stroke-width="2" fill="none"/><rect x="206.8" y="321.0" width="49.8" height="42.6" fill="#c77cc3" stroke="#140c14" stroke-width="2"/><path d="M206.8 343.8H256.6" stroke="#140c14" stroke-width="2"/><path d="M360.1 282.0H409.9M385.0 282.0V308.5M385.0 326.0V334.0M360.1 334.0H409.9" stroke="#140c14" stroke-width="2" fill="none"/><rect x="360.1" y="308.5" width="49.8" height="17.5" fill="#c77cc3" stroke="#140c14" stroke-width="2"/><path d="M360.1 318.7H409.9" stroke="#140c14" stroke-width="2"/><circle cx="385.0" cy="148.4" r="6" fill="#c77cc3" stroke="#140c14" stroke-width="2.2"/><circle cx="385.0" cy="140.2" r="6" fill="#c77cc3" stroke="#140c14" stroke-width="2.2"/><circle cx="385.0" cy="157.2" r="6" fill="#c77cc3" stroke="#140c14" stroke-width="2.2"/><circle cx="385.0" cy="169.4" r="6" fill="#c77cc3" stroke="#140c14" stroke-width="2.2"/><path d="M513.4 289.2H563.2M538.3 289.2V300.8M538.3 409.0V560.0M513.4 560.0H563.2" stroke="#140c14" stroke-width="2" fill="none"/><rect x="513.4" y="300.8" width="49.8" height="108.2" fill="#c77cc3" stroke="#140c14" stroke-width="2"/><path d="M513.4 304.2H563.2" stroke="#140c14" stroke-width="2"/><rect x="155" y="393.5" width="460" height="166.5" fill="rgba(150,40,40,0.1)"/><text x="135" y="164.8" font-size="20.5" text-anchor="end" fill="#212121">-60</text><text x="135" y="263.1" font-size="20.5" text-anchor="end" fill="#212121">-65</text><text x="135" y="361.4" font-size="20.5" text-anchor="end" fill="#212121">-70</text><text x="135" y="459.7" font-size="20.5" text-anchor="end" fill="#212121">-75</text><text x="135" y="558.0" font-size="20.5" text-anchor="end" fill="#212121">-80</text><text x="231.7" y="591.5" font-size="20" text-anchor="middle" fill="#212121" textLength="139" lengthAdjust="spacing">TLE4310142…</text><text x="385.0" y="591.5" font-size="20" text-anchor="middle" fill="#212121" textLength="136.5" lengthAdjust="spacing">DTW220144…</text><text x="538.3" y="591.5" font-size="20" text-anchor="middle" fill="#212121" textLength="139" lengthAdjust="spacing">TLE4610142…</text><text x="385" y="649.5" font-size="20" text-anchor="middle" fill="#212121" textLength="148" lengthAdjust="spacing">BLE_LOT_CODE</text><text transform="translate(54.5 350) rotate(-90)" font-size="20" text-anchor="middle" fill="#212121" textLength="253" lengthAdjust="spacing">BLE_2472MHz_RSSI [dBm]</text></svg>
<div style="left:928px;top:1422px;width:690px;height:362px;background:#fafafa;box-shadow:0 1px 5px rgba(0,0,0,0.3);"></div>
<div style="left:958px;top:1462px;width:20px;height:20px;border-radius:50%;background:#b71c1c;"></div>
<span id="t46" class="t" style="left:992.0px;top:1458.1px;font-size:33px;line-height:33px;color:#212121;font-weight:700;letter-spacing:-0.97px;-webkit-text-stroke:0.3px #fafafa;">Charging Current [mA]</span>
<svg style="left:1553px;top:1467px" width="34" height="10" viewBox="0 0 34 10"><circle cx="5" cy="5" r="3.6" fill="#9c0a94"/><circle cx="15.1" cy="5" r="3.6" fill="#9c0a94"/><circle cx="25.2" cy="5" r="3.6" fill="#9c0a94"/></svg>
<div style="left:958px;top:1506px;width:630px;height:2px;background:#cccccc;"></div>
<svg style="left:928px;top:1422px" width="690" height="362" viewBox="0 0 690 362"><path d="M143 140H155V560M143 560H615M143 157.6H155M143 255.9H155M143 354.2H155M143 452.5H155M143 550.8H155M155.0 560V572M615.0 560V572" stroke="#140c14" stroke-width="2.4" fill="none"/><circle cx="155.0" cy="146.0" r="6" fill="#e09095"/><circle cx="207.3" cy="140.0" r="6" fill="#e09095"/><circle cx="229.0" cy="320.4" r="6" fill="#e09095"/><circle cx="430.0" cy="286.9" r="6" fill="#e09095"/><circle cx="447.0" cy="291.0" r="6" fill="#e09095"/><circle cx="417.2" cy="322.5" r="6" fill="#e09095"/><circle cx="467.7" cy="318.6" r="6" fill="#e09095"/><circle cx="597.2" cy="150.0" r="6" fill="#85a385"/><circle cx="602.0" cy="157.7" r="6" fill="#85a385"/><circle cx="603.8" cy="169.4" r="6" fill="#85a385"/><circle cx="597.4" cy="283.4" r="6" fill="#85a385"/><circle cx="603.0" cy="283.4" r="6" fill="#85a385"/><circle cx="608.8" cy="283.4" r="6" fill="#85a385"/><circle cx="614.5" cy="283.4" r="6" fill="#85a385"/><circle cx="597.6" cy="285.6" r="6" fill="#85a385"/><circle cx="603.9" cy="286.6" r="6" fill="#85a385"/><circle cx="614.3" cy="286.2" r="6" fill="#85a385"/><circle cx="597.1" cy="289.8" r="6" fill="#85a385"/><circle cx="606.0" cy="289.0" r="6" fill="#85a385"/><circle cx="613.0" cy="289.1" r="6" fill="#85a385"/><circle cx="597.8" cy="292.7" r="6" fill="#85a385"/><circle cx="607.9" cy="293.6" r="6" fill="#85a385"/><circle cx="613.2" cy="294.2" r="6" fill="#85a385"/><circle cx="598.2" cy="295.8" r="6" fill="#85a385"/><circle cx="605.3" cy="297.4" r="6" fill="#85a385"/><circle cx="615.0" cy="296.3" r="6" fill="#85a385"/><circle cx="597.3" cy="300.7" r="6" fill="#85a385"/><circle cx="603.7" cy="299.5" r="6" fill="#85a385"/><circle cx="613.6" cy="300.3" r="6" fill="#85a385"/><circle cx="598.3" cy="302.6" r="6" fill="#85a385"/><circle cx="605.2" cy="302.6" r="6" fill="#85a385"/><circle cx="614.1" cy="302.9" r="6" fill="#85a385"/><circle cx="598.4" cy="307.1" r="6" fill="#85a385"/><circle cx="605.5" cy="306.8" r="6" fill="#85a385"/><circle cx="613.6" cy="306.5" r="6" fill="#85a385"/><circle cx="598.6" cy="310.4" r="6" fill="#85a385"/><circle cx="607.1" cy="310.4" r="6" fill="#85a385"/><circle cx="613.4" cy="311.1" r="6" fill="#85a385"/><circle cx="598.5" cy="312.9" r="6" fill="#85a385"/><circle cx="604.7" cy="313.5" r="6" fill="#85a385"/><circle cx="615.1" cy="314.2" r="6" fill="#85a385"/><circle cx="597.3" cy="317.4" r="6" fill="#85a385"/><circle cx="605.9" cy="317.6" r="6" fill="#85a385"/><circle cx="613.0" cy="317.2" r="6" fill="#85a385"/><circle cx="598.8" cy="320.7" r="6" fill="#85a385"/><circle cx="604.8" cy="320.7" r="6" fill="#85a385"/><circle cx="614.4" cy="320.4" r="6" fill="#85a385"/><circle cx="598.7" cy="324.2" r="6" fill="#85a385"/><circle cx="608.6" cy="323.0" r="6" fill="#85a385"/><circle cx="613.9" cy="324.3" r="6" fill="#85a385"/><circle cx="598.3" cy="326.9" r="6" fill="#85a385"/><circle cx="608.9" cy="327.1" r="6" fill="#85a385"/><circle cx="614.7" cy="327.6" r="6" fill="#85a385"/><circle cx="597.0" cy="329.9" r="6" fill="#85a385"/><circle cx="605.7" cy="329.8" r="6" fill="#85a385"/><circle cx="613.3" cy="331.2" r="6" fill="#85a385"/><circle cx="597.3" cy="334.8" r="6" fill="#85a385"/><circle cx="604.4" cy="333.3" r="6" fill="#85a385"/><circle cx="613.8" cy="334.0" r="6" fill="#85a385"/><circle cx="598.1" cy="338.2" r="6" fill="#85a385"/><circle cx="608.3" cy="337.1" r="6" fill="#85a385"/><circle cx="614.7" cy="337.3" r="6" fill="#85a385"/><circle cx="597.7" cy="340.2" r="6" fill="#85a385"/><circle cx="608.3" cy="340.3" r="6" fill="#85a385"/><circle cx="615.0" cy="340.4" r="6" fill="#85a385"/><circle cx="597.5" cy="343.8" r="6" fill="#85a385"/><circle cx="605.9" cy="343.3" r="6" fill="#85a385"/><circle cx="614.2" cy="344.1" r="6" fill="#85a385"/><circle cx="597.7" cy="348.1" r="6" fill="#85a385"/><circle cx="606.3" cy="347.7" r="6" fill="#85a385"/><circle cx="615.0" cy="347.9" r="6" fill="#85a385"/><circle cx="598.4" cy="351.7" r="6" fill="#85a385"/><circle cx="603.3" cy="351.8" r="6" fill="#85a385"/><circle cx="614.9" cy="351.7" r="6" fill="#85a385"/><circle cx="597.8" cy="354.8" r="6" fill="#85a385"/><circle cx="605.3" cy="353.6" r="6" fill="#85a385"/><circle cx="613.1" cy="353.6" r="6" fill="#85a385"/><circle cx="597.4" cy="357.0" r="6" fill="#85a385"/><circle cx="603.9" cy="356.9" r="6" fill="#85a385"/><circle cx="613.6" cy="357.2" r="6" fill="#85a385"/><circle cx="597.2" cy="362.0" r="6" fill="#85a385"/><circle cx="605.1" cy="361.5" r="6" fill="#85a385"/><circle cx="613.0" cy="360.6" r="6" fill="#85a385"/><circle cx="597.5" cy="363.9" r="6" fill="#85a385"/><circle cx="605.0" cy="365.4" r="6" fill="#85a385"/><circle cx="613.7" cy="365.7" r="6" fill="#85a385"/><circle cx="597.9" cy="367.3" r="6" fill="#85a385"/><circle cx="605.9" cy="367.8" r="6" fill="#85a385"/><circle cx="613.1" cy="367.6" r="6" fill="#85a385"/><circle cx="598.7" cy="372.4" r="6" fill="#85a385"/><circle cx="603.9" cy="371.6" r="6" fill="#85a385"/><circle cx="613.0" cy="370.8" r="6" fill="#85a385"/><circle cx="598.1" cy="375.9" r="6" fill="#85a385"/><circle cx="603.1" cy="375.6" r="6" fill="#85a385"/><circle cx="614.1" cy="375.3" r="6" fill="#85a385"/><rect x="155" y="140.4" width="415.3" height="420" fill="rgba(150,40,40,0.1)"/><text x="135" y="164.8" font-size="20.5" text-anchor="end" fill="#212121">-60</text><text x="135" y="263.1" font-size="20.5" text-anchor="end" fill="#212121">-65</text><text x="135" y="361.4" font-size="20.5" text-anchor="end" fill="#212121">-70</text><text x="135" y="459.7" font-size="20.5" text-anchor="end" fill="#212121">-75</text><text x="135" y="558.0" font-size="20.5" text-anchor="end" fill="#212121">-80</text><text transform="translate(54.5 350) rotate(-90)" font-size="20" text-anchor="middle" fill="#212121" textLength="253" lengthAdjust="spacing">BLE_2472MHz_RSSI [dBm]</text></svg>
<div style="left:1668px;top:1422px;width:690px;height:362px;background:#fafafa;box-shadow:0 1px 5px rgba(0,0,0,0.3);"></div>
<div style="left:1698px;top:1462px;width:20px;height:20px;border-radius:50%;background:#ef6c00;"></div>
<span id="t47" class="t" style="left:1732.0px;top:1458.1px;font-size:33px;line-height:33px;color:#212121;font-weight:700;letter-spacing:-0.52px;-webkit-text-stroke:0.3px #fafafa;">Charging Test [P/F]</span>
<svg style="left:2293px;top:1467px" width="34" height="10" viewBox="0 0 34 10"><circle cx="5" cy="5" r="3.6" fill="#9c0a94"/><circle cx="15.1" cy="5" r="3.6" fill="#9c0a94"/><circle cx="25.2" cy="5" r="3.6" fill="#9c0a94"/></svg>
<div style="left:1698px;top:1506px;width:630px;height:2px;background:#cccccc;"></div>
<svg style="left:1668px;top:1422px" width="690" height="362" viewBox="0 0 690 362"><path d="M143 140H155V560M143 560H615M143 157.6H155M143 255.9H155M143 354.2H155M143 452.5H155M143 550.8H155M155.0 560V572M615.0 560V572M270.0 560V572M500.0 560V572" stroke="#140c14" stroke-width="2.4" fill="none"/><path d="M245.1 225.3H294.9M270.0 225.3V304.5M270.0 358.0V408.0M245.1 408.0H294.9" stroke="#140c14" stroke-width="2" fill="none"/><rect x="245.1" y="304.5" width="49.8" height="53.5" fill="#c77cc3" stroke="#140c14" stroke-width="2"/><path d="M245.1 326.0H294.9" stroke="#140c14" stroke-width="2"/><circle cx="270.0" cy="150.0" r="6" fill="#c77cc3" stroke="#140c14" stroke-width="2.2"/><circle cx="270.0" cy="157.7" r="6" fill="#c77cc3" stroke="#140c14" stroke-width="2.2"/><circle cx="270.0" cy="169.4" r="6" fill="#c77cc3" stroke="#140c14" stroke-width="2.2"/><path d="M475.1 139.8H524.9M500.0 139.8V144.2M500.0 298.5V320.4M475.1 320.4H524.9" stroke="#140c14" stroke-width="2" fill="none"/><rect x="475.1" y="144.2" width="49.8" height="154.3" fill="#c77cc3" stroke="#140c14" stroke-width="2"/><path d="M475.1 218.0H524.9" stroke="#140c14" stroke-width="2"/><rect x="385" y="140.4" width="230" height="420" fill="rgba(150,40,40,0.1)"/><text x="135" y="164.8" font-size="20.5" text-anchor="end" fill="#212121">-60</text><text x="135" y="263.1" font-size="20.5" text-anchor="end" fill="#212121">-65</text><text x="135" y="361.4" font-size="20.5" text-anchor="end" fill="#212121">-70</text><text x="135" y="459.7" font-size="20.5" text-anchor="end" fill="#212121">-75</text><text x="135" y="558.0" font-size="20.5" text-anchor="end" fill="#212121">-80</text><text transform="translate(54.5 350) rotate(-90)" font-size="20" text-anchor="middle" fill="#212121" textLength="253" lengthAdjust="spacing">BLE_2472MHz_RSSI [dBm]</text></svg>
<div style="left:2408px;top:1422px;width:690px;height:362px;background:#fafafa;box-shadow:0 1px 5px rgba(0,0,0,0.3);"></div>
<div style="left:2438px;top:1462px;width:20px;height:20px;border-radius:50%;background:#ef6c00;"></div>
<span id="t48" class="t" style="left:2471.0px;top:1458.1px;font-size:33px;line-height:33px;color:#212121;font-weight:700;letter-spacing:-1.54px;-webkit-text-stroke:0.3px #fafafa;">BLE_ANTENNA_CONFIG</span>
<svg style="left:3033px;top:1467px" width="34" height="10" viewBox="0 0 34 10"><circle cx="5" cy="5" r="3.6" fill="#9c0a94"/><circle cx="15.1" cy="5" r="3.6" fill="#9c0a94"/><circle cx="25.2" cy="5" r="3.6" fill="#9c0a94"/></svg>
<div style="left:2438px;top:1506px;width:630px;height:2px;background:#cccccc;"></div>
<svg style="left:2408px;top:1422px" width="690" height="362" viewBox="0 0 690 362"><path d="M143 140H155V560M143 560H615M143 157.6H155M143 255.9H155M143 354.2H155M143 452.5H155M143 550.8H155M155.0 560V572M615.0 560V572M270.0 560V572M500.0 560V572" stroke="#140c14" stroke-width="2.4" fill="none"/><path d="M245.1 249.5H294.9M270.0 249.5V311.7M270.0 353.9V408.0M245.1 408.0H294.9" stroke="#140c14" stroke-width="2" fill="none"/><rect x="245.1" y="311.7" width="49.8" height="42.2" fill="#c77cc3" stroke="#140c14" stroke-width="2"/><path d="M245.1 330.0H294.9" stroke="#140c14" stroke-width="2"/><circle cx="270.0" cy="140.0" r="6" fill="#c77cc3" stroke="#140c14" stroke-width="2.2"/><circle cx="270.0" cy="149.0" r="6" fill="#c77cc3" stroke="#140c14" stroke-width="2.2"/><circle cx="270.0" cy="157.4" r="6" fill="#c77cc3" stroke="#140c14" stroke-width="2.2"/><circle cx="270.0" cy="169.4" r="6" fill="#c77cc3" stroke="#140c14" stroke-width="2.2"/><path d="M475.1 289.0H524.9M500.0 289.0V300.6M500.0 418.0V428.0M475.1 428.0H524.9" stroke="#140c14" stroke-width="2" fill="none"/><rect x="475.1" y="300.6" width="49.8" height="117.4" fill="#c77cc3" stroke="#140c14" stroke-width="2"/><path d="M475.1 304.2H524.9" stroke="#140c14" stroke-width="2"/><text x="135" y="164.8" font-size="20.5" text-anchor="end" fill="#212121">-60</text><text x="135" y="263.1" font-size="20.5" text-anchor="end" fill="#212121">-65</text><text x="135" y="361.4" font-size="20.5" text-anchor="end" fill="#212121">-70</text><text x="135" y="459.7" font-size="20.5" text-anchor="end" fill="#212121">-75</text><text x="135" y="558.0" font-size="20.5" text-anchor="end" fill="#212121">-80</text><text transform="translate(54.5 350) rotate(-90)" font-size="20" text-anchor="middle" fill="#212121" textLength="253" lengthAdjust="spacing">BLE_2472MHz_RSSI [dBm]</text></svg>
<div style="left:3578px;top:2px;width:2px;height:1784px;background:rgba(255,255,255,0.2);"></div>
</div></body></html>
